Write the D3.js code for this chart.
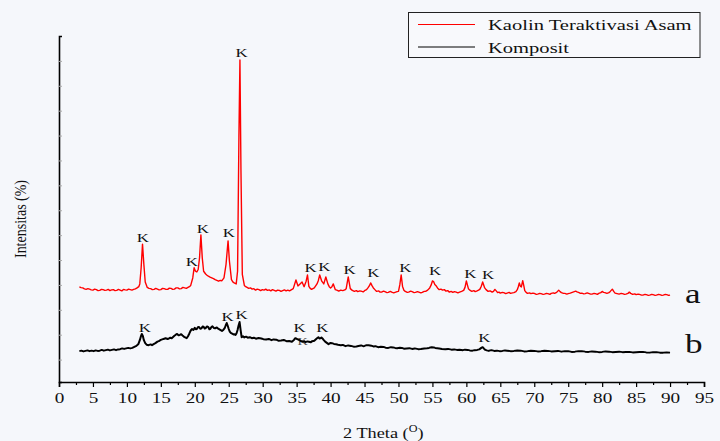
<!DOCTYPE html>
<html>
<head>
<meta charset="utf-8">
<script src="https://cdn.jsdelivr.net/npm/d3@7"></script>
<style>
    html, body { margin: 0; padding: 0; background: #f5f7fb; }
    svg { display: block; }
</style>
</head>
<body>
<div id="chart"><svg></svg></div>
<script>
// 2 theta (deg), intensitas (a.u.)
const kaolinAsam = [
    [3.0, 292], [3.25, 289], [3.5, 288], [3.75, 284], [4.0, 282], [4.25, 285], [4.5, 283], [4.75, 280],
    [5.0, 279], [5.25, 283], [5.5, 281], [5.75, 277], [6.0, 278], [6.25, 282], [6.5, 281], [6.75, 278],
    [7.0, 279], [7.25, 282], [7.5, 277], [7.75, 280], [8.0, 281], [8.25, 277], [8.5, 278], [8.75, 282],
    [9.0, 279], [9.25, 276], [9.5, 282], [9.75, 280], [10.0, 279], [10.25, 283], [10.5, 281], [10.75, 279],
    [11.0, 282], [11.25, 284], [11.5, 288], [11.75, 293], [11.9, 304], [12.1, 369], [12.3, 464], [12.5, 382],
    [12.7, 312], [13.0, 290], [13.25, 286], [13.5, 285], [13.75, 281], [14.0, 282], [14.25, 286], [14.5, 283],
    [14.75, 280], [15.0, 281], [15.25, 286], [15.5, 285], [15.75, 282], [16.0, 282], [16.25, 287], [16.5, 286],
    [16.75, 282], [17.0, 283], [17.25, 288], [17.5, 288], [17.75, 284], [18.0, 285], [18.25, 290], [18.5, 288],
    [18.75, 286], [19.0, 290], [19.2, 293], [19.4, 298], [19.7, 328], [19.9, 369], [20.1, 355], [20.3, 352],
    [20.5, 362], [20.7, 409], [20.9, 501], [21.1, 409], [21.3, 355], [21.6, 344], [21.8, 339], [22.0, 335],
    [22.25, 331], [22.5, 328], [22.75, 325], [23.0, 321], [23.25, 318], [23.5, 315], [23.75, 318], [24.0, 317],
    [24.3, 328], [24.6, 382], [24.9, 477], [25.1, 396], [25.4, 321], [25.6, 312], [25.8, 308], [26.1, 304],
    [26.3, 355], [26.5, 895], [26.65, 1204], [26.8, 760], [27.0, 342], [27.3, 298], [27.5, 293], [27.7, 290],
    [27.95, 286], [28.2, 288], [28.45, 283], [28.7, 285], [28.95, 279], [29.2, 283], [29.45, 281], [29.7, 277],
    [29.95, 281], [30.2, 279], [30.45, 283], [30.7, 278], [30.95, 280], [31.2, 276], [31.45, 281], [31.7, 278],
    [31.95, 275], [32.2, 279], [32.45, 278], [32.7, 274], [32.95, 277], [33.2, 280], [33.45, 276], [33.7, 279],
    [33.95, 276], [34.2, 280], [34.5, 285], [34.9, 320], [35.2, 296], [35.5, 304], [35.8, 312], [36.1, 293],
    [36.4, 315], [36.6, 340], [36.8, 294], [37.0, 286], [37.2, 282], [37.4, 285], [37.6, 288], [38.0, 304],
    [38.2, 318], [38.4, 340], [38.7, 315], [39.0, 304], [39.3, 332], [39.6, 304], [39.8, 293], [40.0, 288],
    [40.2, 293], [40.4, 304], [40.7, 281], [41.0, 278], [41.2, 275], [41.5, 279], [41.8, 277], [42.1, 280],
    [42.3, 285], [42.6, 332], [42.9, 285], [43.2, 278], [43.5, 274], [43.8, 277], [44.0, 273], [44.3, 276],
    [44.5, 275], [44.8, 272], [45.0, 277], [45.3, 281], [45.5, 288], [45.7, 296], [45.9, 308], [46.1, 297],
    [46.3, 288], [46.6, 279], [46.8, 274], [47.1, 276], [47.3, 271], [47.5, 271], [47.8, 275], [48.0, 273],
    [48.3, 269], [48.5, 270], [48.8, 274], [49.0, 271], [49.3, 268], [49.5, 270], [49.8, 273], [50.0, 274],
    [50.2, 301], [50.4, 340], [50.6, 294], [50.8, 279], [51.0, 274], [51.3, 270], [51.5, 271], [51.8, 275],
    [52.0, 273], [52.3, 269], [52.5, 270], [52.8, 273], [53.0, 271], [53.3, 268], [53.5, 270], [53.8, 274],
    [54.0, 274], [54.3, 279], [54.6, 288], [54.8, 299], [55.0, 316], [55.2, 312], [55.35, 302], [55.5, 298],
    [55.75, 288], [56.0, 281], [56.25, 283], [56.5, 279], [56.75, 281], [57.0, 275], [57.25, 277], [57.5, 271],
    [57.75, 274], [58.0, 270], [58.25, 273], [58.5, 271], [58.75, 268], [59.0, 271], [59.3, 274], [59.6, 278],
    [59.8, 290], [60.0, 316], [60.15, 300], [60.3, 285], [60.5, 279], [60.8, 274], [61.1, 277], [61.3, 273],
    [61.5, 275], [61.8, 279], [62.0, 283], [62.2, 295], [62.4, 312], [62.55, 300], [62.7, 288], [62.9, 281],
    [63.2, 274], [63.5, 276], [63.8, 271], [64.0, 274], [64.2, 282], [64.4, 276], [64.6, 269], [64.8, 271],
    [65.0, 267], [65.3, 270], [65.5, 269], [65.8, 265], [66.0, 267], [66.3, 270], [66.5, 266], [66.8, 268],
    [67.0, 269], [67.3, 273], [67.5, 281], [67.65, 293], [67.8, 308], [67.95, 295], [68.1, 292], [68.3, 317],
    [68.45, 298], [68.6, 277], [68.8, 270], [69.0, 266], [69.3, 268], [69.5, 265], [69.8, 267], [70.0, 266],
    [70.3, 262], [70.5, 263], [70.8, 266], [71.0, 265], [71.3, 262], [71.5, 263], [71.8, 266], [72.0, 265],
    [72.3, 262], [72.5, 266], [72.8, 268], [73.0, 266], [73.3, 270], [73.6, 279], [73.8, 273], [74.0, 269],
    [74.3, 266], [74.5, 266], [74.8, 263], [75.0, 265], [75.3, 267], [75.5, 269], [75.8, 272], [76.1, 275],
    [76.3, 272], [76.6, 269], [76.8, 266], [77.0, 267], [77.3, 264], [77.5, 265], [77.8, 268], [78.0, 266],
    [78.3, 263], [78.5, 263], [78.8, 266], [79.0, 265], [79.3, 262], [79.5, 266], [79.8, 269], [80.0, 274],
    [80.2, 270], [80.4, 269], [80.7, 266], [81.0, 269], [81.2, 274], [81.5, 283], [81.7, 274], [81.9, 267],
    [82.2, 265], [82.5, 263], [82.8, 266], [83.0, 265], [83.3, 262], [83.5, 263], [83.8, 266], [84.0, 271],
    [84.2, 266], [84.5, 262], [84.8, 264], [85.0, 261], [85.3, 263], [85.5, 262], [85.8, 259], [86.0, 259],
    [86.3, 262], [86.5, 261], [86.8, 258], [87.0, 259], [87.3, 262], [87.5, 261], [87.8, 258], [88.0, 259],
    [88.3, 262], [88.5, 261], [88.8, 258], [89.0, 259], [89.3, 262], [89.5, 261], [89.8, 258], [90.0, 259]
];

const komposit = [
    [3.0, 34], [3.3, 36], [3.6, 33], [3.9, 35], [4.2, 37], [4.5, 34], [4.8, 36], [5.1, 34],
    [5.4, 37], [5.7, 35], [6.0, 36], [6.3, 39], [6.6, 36], [6.9, 38], [7.2, 40], [7.5, 37],
    [7.8, 39], [8.1, 41], [8.4, 38], [8.7, 41], [9.0, 42], [9.3, 45], [9.6, 43], [9.9, 45],
    [10.2, 47], [10.5, 45], [10.8, 47], [11.1, 51], [11.4, 55], [11.7, 63], [11.9, 78], [12.05, 92],
    [12.2, 103], [12.35, 95], [12.5, 78], [12.7, 66], [12.9, 60], [13.2, 58], [13.5, 61], [13.7, 58],
    [14.0, 63], [14.2, 66], [14.5, 72], [14.7, 74], [15.0, 79], [15.2, 81], [15.5, 84], [15.7, 86],
    [16.0, 83], [16.2, 85], [16.4, 88], [16.6, 86], [16.8, 91], [17.0, 96], [17.2, 100], [17.4, 103],
    [17.6, 98], [17.8, 99], [18.0, 102], [18.2, 97], [18.5, 90], [18.8, 86], [19.0, 94], [19.2, 105],
    [19.4, 117], [19.6, 123], [19.8, 119], [20.0, 128], [20.15, 122], [20.3, 123], [20.45, 130], [20.6, 131],
    [20.8, 124], [21.0, 126], [21.15, 133], [21.3, 132], [21.45, 125], [21.6, 127], [21.8, 133], [22.0, 130],
    [22.15, 122], [22.3, 124], [22.45, 131], [22.6, 134], [22.8, 127], [23.0, 126], [23.25, 129], [23.5, 123],
    [23.75, 119], [24.0, 115], [24.2, 119], [24.4, 126], [24.55, 137], [24.7, 147], [24.85, 136], [25.0, 123],
    [25.15, 112], [25.3, 107], [25.5, 104], [25.7, 101], [25.85, 102], [26.0, 99], [26.15, 106], [26.3, 119],
    [26.45, 137], [26.6, 151], [26.75, 118], [26.9, 90], [27.1, 94], [27.3, 89], [27.55, 92], [27.8, 88],
    [28.1, 90], [28.4, 86], [28.7, 88], [29.0, 84], [29.4, 87], [29.8, 85], [30.1, 82], [30.5, 81],
    [30.9, 83], [31.3, 78], [31.6, 81], [32.0, 80], [32.3, 76], [32.7, 77], [33.1, 79], [33.5, 74],
    [33.9, 75], [34.3, 72], [34.6, 79], [34.8, 86], [35.0, 84], [35.1, 82], [35.4, 78], [35.6, 75],
    [35.8, 72], [36.1, 74], [36.3, 70], [36.6, 73], [36.8, 72], [37.1, 70], [37.3, 74], [37.6, 76],
    [37.8, 81], [38.0, 86], [38.2, 90], [38.35, 85], [38.5, 86], [38.65, 89], [38.8, 85], [39.0, 78],
    [39.2, 72], [39.5, 66], [39.7, 62], [40.0, 67], [40.2, 66], [40.5, 63], [40.8, 62], [41.1, 60],
    [41.5, 58], [41.8, 59], [42.2, 54], [42.6, 57], [43.0, 55], [43.4, 52], [43.8, 53], [44.1, 55],
    [44.5, 57], [44.8, 54], [45.0, 55], [45.3, 58], [45.6, 58], [46.0, 56], [46.3, 53], [46.6, 54],
    [47.0, 50], [47.4, 52], [47.8, 51], [48.1, 48], [48.5, 47], [48.9, 50], [49.2, 49], [49.5, 47],
    [49.8, 46], [50.2, 48], [50.5, 47], [50.8, 44], [51.2, 45], [51.6, 46], [52.0, 43], [52.4, 45],
    [52.9, 42], [53.3, 43], [53.8, 45], [54.2, 46], [54.5, 47], [54.7, 49], [54.9, 50], [55.2, 49],
    [55.4, 47], [55.7, 46], [56.0, 45], [56.4, 43], [56.9, 42], [57.3, 43], [57.8, 40], [58.2, 41],
    [58.6, 39], [59.0, 40], [59.5, 38], [59.8, 40], [60.2, 39], [60.5, 37], [60.9, 36], [61.2, 38],
    [61.6, 39], [61.9, 41], [62.1, 45], [62.25, 48], [62.4, 50], [62.6, 44], [62.8, 39], [63.0, 37],
    [63.3, 35], [63.5, 37], [63.7, 38], [64.1, 35], [64.5, 36], [64.9, 34], [65.3, 35], [65.7, 37],
    [66.0, 36], [66.5, 34], [67.0, 35], [67.5, 37], [68.0, 36], [68.5, 33], [69.0, 34], [69.5, 36],
    [70.0, 35], [70.5, 33], [71.0, 34], [71.5, 36], [72.0, 35], [72.5, 33], [73.0, 34], [73.5, 35],
    [74.0, 32], [74.5, 34], [75.0, 34], [75.5, 31], [76.0, 32], [76.5, 34], [77.0, 34], [77.5, 32],
    [78.0, 31], [78.5, 33], [79.0, 32], [79.5, 30], [80.0, 31], [80.5, 33], [81.0, 32], [81.5, 30],
    [82.0, 31], [82.5, 32], [83.0, 30], [83.5, 31], [84.0, 31], [84.5, 29], [85.0, 30], [85.5, 31],
    [86.0, 31], [86.5, 29], [87.0, 28], [87.5, 30], [88.0, 30], [88.5, 28], [89.0, 28], [89.5, 29],
    [90.0, 28]
];

// label puncak kaolinit "K": [2 theta, intensitas dasar label]
const kaolinPeakLabels = [
    [12.35, 472], [19.56, 376], [21.18, 508], [25.0, 492], [26.9, 1216], [37.06, 352], [39.1, 356],
    [42.8, 344], [46.3, 332], [51.0, 352], [55.4, 340], [60.6, 328], [63.2, 324]
];
const kompositPeakLabels = [
    [12.65, 111], [24.85, 155], [26.9, 163], [35.44, 111], [38.8, 111], [62.65, 71]
];
// K kedua yang tertutup kurva di ~35.7
const kompositHiddenLabels = [[35.9, 60]];

const seriesNames = ['Kaolin Teraktivasi Asam', 'Komposit'];
const seriesColors = ['#ff0000', '#000000'];
const seriesTags = [['a', 92.2, 227], ['b', 92.2, 27]];

const xTickLabels = [0, 5, 10, 15, 20, 25, 30, 35, 40, 45, 50, 55, 60, 65, 70, 75, 80, 85, 90, 95];
const xMinorTicks = [2.5, 7.5, 12.5, 17.5, 22.5, 27.5, 32.5, 37.5, 42.5, 47.5, 52.5, 57.5, 62.5, 67.5, 72.5, 77.5, 82.5, 87.5, 92.5];
const yTicks = [0, 100, 200, 300, 400, 500, 600, 700, 800, 900, 1000, 1100, 1200];

const W = 720, H = 441;
const margin = { top: 36, right: 15, bottom: 59, left: 59 };
const FONT = '"Liberation Serif", "Times New Roman", Times, serif';
const SX = 1.28; // gambar asli melebar horizontal

const svg = d3.select('#chart svg').attr('width', W).attr('height', H);

const x = d3.scaleLinear().domain([0, 95]).range([margin.left, W - margin.right - 1]);
const y = d3.scaleLinear().domain([-90, 1300]).range([H - margin.bottom, margin.top]);

function stretchText(g, str, px, py, size, sx, anchor) {
    return g.append('text')
        .attr('transform', `translate(${px},${py}) scale(${sx},1)`)
        .attr('text-anchor', anchor || 'start')
        .attr('font-family', FONT)
        .style('font-size', size + 'px')
        .attr('fill', '#111')
        .text(str);
}

// sumbu x
const xAxis = svg.append('g')
    .attr('transform', `translate(0,${y(-90)})`)
    .attr('font-family', FONT)
    .call(d3.axisBottom(x).tickValues(xTickLabels).tickSize(5).tickPadding(5).tickFormat(d3.format('d')));
xAxis.selectAll('.tick text')
    .attr('font-family', FONT)
    .style('font-size', '15px')
    .attr('fill', '#111')
    .attr('transform', `scale(${SX},1)`);
xAxis.select('.domain').attr('stroke-width', 1.6).attr('stroke', '#000');
xAxis.selectAll('.tick line').attr('stroke-width', 1.2);

svg.append('g')
    .attr('transform', `translate(0,${y(-90)})`)
    .call(d3.axisBottom(x).tickValues(xMinorTicks).tickSize(3).tickFormat(''))
    .call(g => g.select('.domain').remove())
    .selectAll('.tick line').attr('stroke-width', 1.2);

// sumbu y (tanpa label angka)
const yAxis = svg.append('g')
    .attr('transform', `translate(${margin.left},0)`)
    .call(d3.axisLeft(y).tickValues(yTicks).tickSize(-3).tickFormat(''));
yAxis.select('.domain').attr('stroke-width', 1.6).attr('stroke', '#000');
yAxis.selectAll('.tick line').attr('stroke', '#aaa');

// judul sumbu
const xTitle = stretchText(svg, '2 Theta (', 343, 438, 15, 1.22, 'start');
xTitle.append('tspan').attr('dy', -6).style('font-size', '10px').text('O');
xTitle.append('tspan').attr('dy', 6).text(')');

svg.append('text')
    .attr('transform', 'translate(26,219) rotate(-90) scale(1,1.25)')
    .attr('text-anchor', 'middle')
    .attr('font-family', FONT)
    .style('font-size', '14px')
    .attr('fill', '#111')
    .text('Intensitas (%)');

const plot = svg.append('g').attr('class', 'chart-source-group');

// K yang tertutup digambar dulu supaya berada di bawah kurva
kompositHiddenLabels.forEach(d => stretchText(plot, 'K', x(d[0]), y(d[1]), 11, 1.3, 'middle').attr('fill', '#555'));

// kurva difraksi
const line = d3.line().x(d => x(d[0])).y(d => y(d[1]));
[kaolinAsam, komposit].forEach((data, i) => {
    plot.append('path')
        .datum(data)
        .attr('fill', 'none')
        .attr('stroke', seriesColors[i])
        .attr('stroke-width', i === 0 ? 1.4 : 2)
        .attr('stroke-linejoin', 'round')
        .attr('d', line);
});

// label K
[kaolinPeakLabels, kompositPeakLabels].forEach(list => {
    list.forEach(d => stretchText(plot, 'K', x(d[0]), y(d[1]), 13, 1.3, 'middle'));
});

// label a / b
seriesTags.forEach(d => stretchText(plot, d[0], x(d[1]), y(d[2]), 27, 1.3, 'start'));

// legenda
const legend = svg.append('g');
legend.append('rect')
    .attr('x', 408.5).attr('y', 12.5)
    .attr('width', 291.5).attr('height', 45)
    .attr('fill', '#f8f9fc')
    .attr('stroke', '#222')
    .attr('stroke-width', 1);
seriesNames.forEach((name, i) => {
    const ly = 24.5 + i * 22.5;
    legend.append('line')
        .attr('x1', 418).attr('x2', 475)
        .attr('y1', ly).attr('y2', ly)
        .attr('stroke', seriesColors[i])
        .attr('stroke-width', 1);
    stretchText(legend, name, 488, ly + 5.5, 15, 1.37, 'start');
});
</script>
</body>
</html>
